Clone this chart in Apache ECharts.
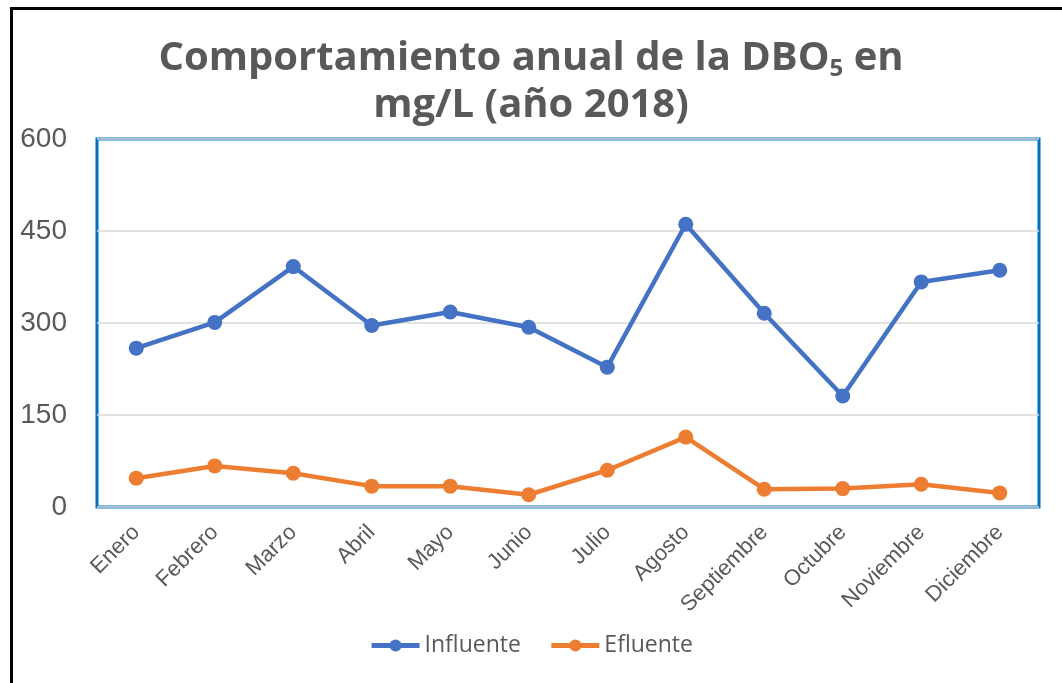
<!DOCTYPE html>
<html>
<head>
<meta charset="utf-8">
<script src="https://cdn.jsdelivr.net/npm/echarts@6/dist/echarts.min.js"></script>
<style>
  html, body { margin: 0; padding: 0; background: #fff; }
  #chart { width: 1062px; height: 683px; }
</style>
</head>
<body>
<div id="chart"></div>
<script>
// meses y valores de DBO5 (mg/L)
const meses = ["Enero", "Febrero", "Marzo", "Abril", "Mayo", "Junio", "Julio",
  "Agosto", "Septiembre", "Octubre", "Noviembre", "Diciembre"];
const influente = [259, 301, 392, 296, 318, 293, 228, 461, 316, 181, 367, 386];
const efluente = [47, 67, 55, 34, 34, 20, 60, 114, 29, 30, 37, 23];

const gris = "#595959";
const chart = echarts.init(document.getElementById("chart"));

const options = {
  backgroundColor: "#fff",
  animation: false,
  title: {
    text: "{t|Comportamiento anual de la DBO}{s|5}{t| en}\n{t|mg/L (año 2018)}",
    left: "center",
    top: 30,
    textStyle: {
      rich: {
        t: { fontFamily: "Open Sans", fontWeight: "bold", fontSize: 40, color: gris, lineHeight: 47 },
        s: { fontFamily: "Open Sans", fontWeight: "bold", fontSize: 24, color: gris, lineHeight: 47, padding: [22, 0, 0, 0] },
      },
    },
  },
  graphic: [
    {
      type: "rect",
      shape: { x: 11.5, y: 8.5, width: 1100, height: 720 },
      style: { fill: "none", stroke: "#000", lineWidth: 3 },
      silent: true,
    },
  ],
  legend: {
    data: ["Influente", "Efluente"],
    bottom: 21,
    left: "center",
    itemWidth: 48,
    itemHeight: 15,
    itemGap: 28,
    lineStyle: { width: 5 },
    textStyle: { fontFamily: "Open Sans", fontSize: 23, color: gris },
  },
  grid: {
    left: 97,
    right: 23,
    top: 139,
    bottom: 176,
    show: true,
    borderColor: "#0070C0",
    borderWidth: 3,
    containLabel: false,
  },
  xAxis: {
    type: "category",
    data: meses,
    boundaryGap: true,
    axisLine: { show: false },
    axisTick: { show: false },
    axisLabel: {
      rotate: 45,
      margin: 22,
      interval: 0,
      fontFamily: "Liberation Sans",
      fontSize: 22,
      color: gris,
    },
  },
  yAxis: {
    type: "value",
    min: 0,
    max: 600,
    interval: 150,
    axisLine: { show: false },
    axisTick: { show: false },
    axisLabel: {
      margin: 30,
      fontFamily: "Liberation Sans",
      fontSize: 28,
      color: gris,
    },
    splitLine: { lineStyle: { color: "#d9d9d9", width: 1.5 } },
  },
  series: [
    {
      name: "Influente",
      type: "line",
      data: influente,
      symbol: "circle",
      symbolSize: 15,
      itemStyle: { color: "#4472C4" },
      lineStyle: { color: "#4472C4", width: 4.5 },
    },
    {
      name: "Efluente",
      type: "line",
      data: efluente,
      symbol: "circle",
      symbolSize: 15,
      itemStyle: { color: "#ED7D31" },
      lineStyle: { color: "#ED7D31", width: 4.5 },
    },
  ],
};

chart.setOption(options);
</script>
</body>
</html>
